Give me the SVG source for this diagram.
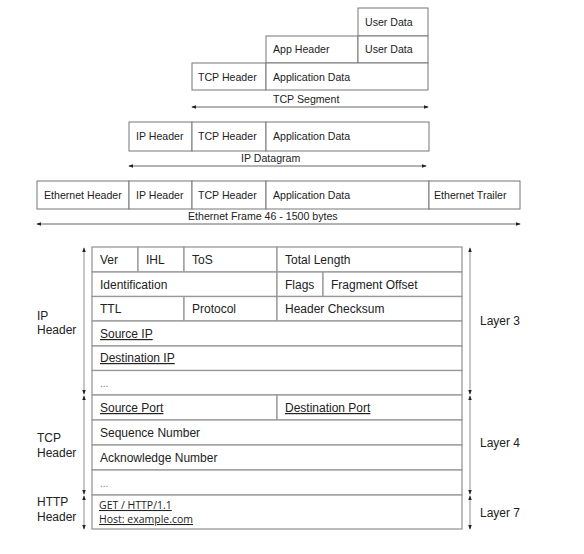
<svg xmlns="http://www.w3.org/2000/svg" width="584" height="554" viewBox="0 0 584 554">
<defs>
<marker id="ah" viewBox="0 0 6 6" refX="5" refY="3" markerWidth="5" markerHeight="5" orient="auto-start-reverse" markerUnits="userSpaceOnUse">
<path d="M0,0.8 L6,3 L0,5.2 Z" fill="#222"/>
</marker>
</defs>
<style>
.box{fill:#fff;stroke:#777;stroke-width:1}
.cell{fill:#fff;stroke:#999;stroke-width:1.3}
.t{font-family:"Liberation Sans",Arial,sans-serif;font-size:10.6px;fill:#222}
.tt{font-family:"Liberation Sans",Arial,sans-serif;font-size:12px;fill:#222}
.u{text-decoration:underline}
.h{font-family:"Open Sans","Noto Sans",sans-serif;font-size:10.5px;fill:#222;text-decoration:underline}
.arr{stroke:#666;stroke-width:1;fill:none;marker-start:url(#ah);marker-end:url(#ah)}
.br{stroke:#aaa;stroke-width:1.3;fill:none;marker-start:url(#ah);marker-end:url(#ah)}
</style>
<rect width="584" height="554" fill="#fff"/>

<g id="tcp-segment">
<rect class="box" x="358" y="8" width="70" height="28"/>
<text class="t" x="365" y="26">User Data</text>
<rect class="box" x="266" y="36" width="92" height="27"/>
<text class="t" x="273" y="53">App Header</text>
<rect class="box" x="358" y="36" width="70" height="27"/>
<text class="t" x="365" y="53">User Data</text>
<rect class="box" x="192" y="63" width="74" height="27"/>
<text class="t" x="198" y="81">TCP Header</text>
<rect class="box" x="266" y="63" width="162" height="27"/>
<text class="t" x="273" y="81">Application Data</text>
<text class="t" x="273" y="103">TCP Segment</text>
</g>

<g id="ip-datagram">
<rect class="box" x="129" y="122" width="63" height="29"/>
<text class="t" x="136" y="140">IP Header</text>
<rect class="box" x="192" y="122" width="74" height="29"/>
<text class="t" x="198" y="140">TCP Header</text>
<rect class="box" x="266" y="122" width="163" height="29"/>
<text class="t" x="273" y="140">Application Data</text>
<text class="t" x="241" y="162">IP Datagram</text>
</g>

<g id="ethernet-frame">
<rect class="box" x="37" y="181" width="92" height="28"/>
<text class="t" x="44" y="199">Ethernet Header</text>
<rect class="box" x="129" y="181" width="63" height="28"/>
<text class="t" x="136" y="199">IP Header</text>
<rect class="box" x="192" y="181" width="74" height="28"/>
<text class="t" x="198" y="199">TCP Header</text>
<rect class="box" x="266" y="181" width="163" height="28"/>
<text class="t" x="273" y="199">Application Data</text>
<rect class="box" x="429" y="181" width="91" height="28"/>
<text class="t" x="434" y="199">Ethernet Trailer</text>
<text class="t" x="188" y="220">Ethernet Frame 46 - 1500 bytes</text>
</g>

<g id="ip-header">
<rect class="cell" x="92" y="247" width="46" height="25"/>
<text class="tt" x="100" y="264">Ver</text>
<rect class="cell" x="138" y="247" width="46" height="25"/>
<text class="tt" x="146" y="264">IHL</text>
<rect class="cell" x="184" y="247" width="93" height="25"/>
<text class="tt" x="192" y="264">ToS</text>
<rect class="cell" x="277" y="247" width="185" height="25"/>
<text class="tt" x="285" y="264">Total Length</text>

<rect class="cell" x="92" y="272" width="185" height="24.5"/>
<text class="tt" x="100" y="289">Identification</text>
<rect class="cell" x="277" y="272" width="46" height="24.5"/>
<text class="tt" x="285" y="289">Flags</text>
<rect class="cell" x="323" y="272" width="139" height="24.5"/>
<text class="tt" x="331" y="289">Fragment Offset</text>

<rect class="cell" x="92" y="296.5" width="92" height="24.5"/>
<text class="tt" x="100" y="313">TTL</text>
<rect class="cell" x="184" y="296.5" width="93" height="24.5"/>
<text class="tt" x="192" y="313">Protocol</text>
<rect class="cell" x="277" y="296.5" width="185" height="24.5"/>
<text class="tt" x="285" y="313">Header Checksum</text>

<rect class="cell" x="92" y="321" width="370" height="25"/>
<text class="tt u" x="100" y="338">Source IP</text>
<rect class="cell" x="92" y="346" width="370" height="24.5"/>
<text class="tt u" x="100" y="362">Destination IP</text>
<rect class="cell" x="92" y="370.5" width="370" height="24.5"/>
<text class="tt" x="100" y="387" style="font-size:10px;fill:#777">...</text>
</g>

<g id="tcp-header">
<rect class="cell" x="92" y="395" width="185" height="25"/>
<text class="tt u" x="100" y="412">Source Port</text>
<rect class="cell" x="277" y="395" width="185" height="25"/>
<text class="tt u" x="285" y="412">Destination Port</text>
<rect class="cell" x="92" y="420" width="370" height="25"/>
<text class="tt" x="100" y="437">Sequence Number</text>
<rect class="cell" x="92" y="445" width="370" height="25"/>
<text class="tt" x="100" y="462">Acknowledge Number</text>
<rect class="cell" x="92" y="470" width="370" height="25"/>
<text class="tt" x="100" y="487" style="font-size:10px;fill:#777">...</text>
</g>

<g id="http-header">
<rect class="cell" x="92" y="495" width="370" height="34"/>
<text class="h" x="99" y="509">GET / HTTP/1.1</text>
<text class="h" x="99" y="523">Host: example.com</text>
</g>

<g id="labels">
<text class="tt" x="37" y="320">IP</text>
<text class="tt" x="37" y="334">Header</text>
<text class="tt" x="37" y="442">TCP</text>
<text class="tt" x="37" y="457">Header</text>
<text class="tt" x="37" y="506">HTTP</text>
<text class="tt" x="37" y="521">Header</text>
<text class="tt" x="480" y="325">Layer 3</text>
<text class="tt" x="480" y="447">Layer 4</text>
<text class="tt" x="480" y="517">Layer 7</text>
</g>

<g id="connectors">
<line class="arr" x1="192" y1="107" x2="428" y2="107"/>
<line class="arr" x1="129" y1="166" x2="426" y2="166"/>
<line class="arr" x1="37" y1="224" x2="520" y2="224"/>
<line class="br" x1="84" y1="248" x2="84" y2="394"/>
<line class="br" x1="84" y1="396" x2="84" y2="494"/>
<line class="br" x1="84" y1="496" x2="84" y2="529"/>
<line class="br" x1="470" y1="248" x2="470" y2="394"/>
<line class="br" x1="470" y1="396" x2="470" y2="494"/>
<line class="br" x1="470" y1="496" x2="470" y2="529"/>
</g>
</svg>
